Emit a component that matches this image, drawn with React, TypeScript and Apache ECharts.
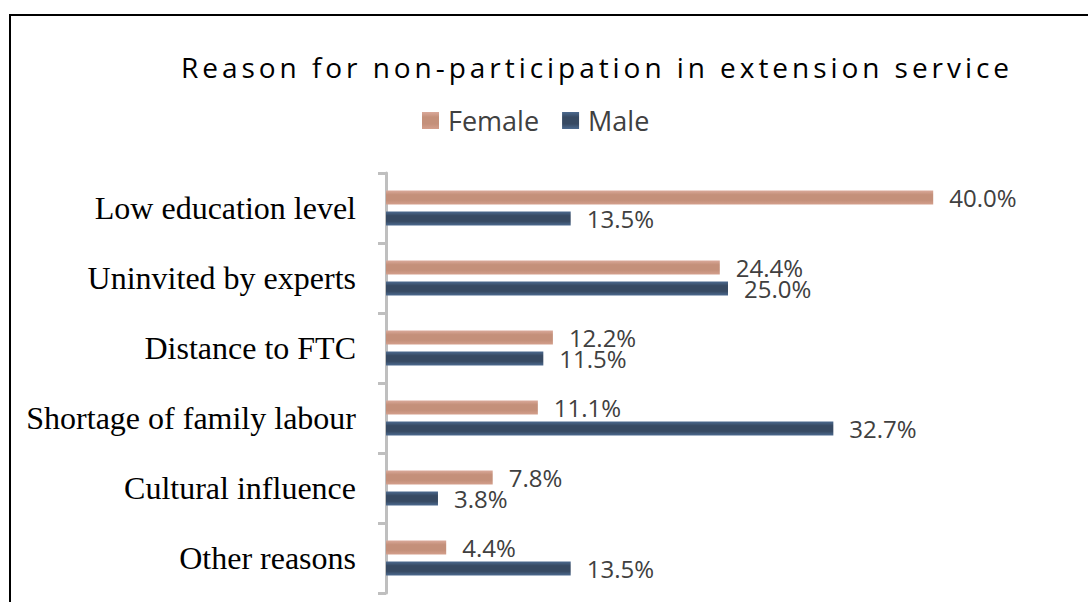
import React, { useEffect, useRef } from "react";
import * as echarts from "echarts";

const TITLE = "Reason for non-participation in extension service";
const categories = [
  "Low education level",
  "Uninvited by experts",
  "Distance to FTC",
  "Shortage of family labour",
  "Cultural influence",
  "Other reasons",
];
const female = [40.0, 24.4, 12.2, 11.1, 7.8, 4.4];
const male = [13.5, 25.0, 11.5, 32.7, 3.8, 13.5];
const seriesNames = ["Female", "Male"];

const femaleGrad = () =>
  new echarts.graphic.LinearGradient(0, 0, 0, 1, [
    { offset: 0, color: "#DAA99A" },
    { offset: 0.3, color: "#C4907A" },
    { offset: 0.7, color: "#C4907A" },
    { offset: 1, color: "#D49F8C" },
  ]);
const maleGrad = () =>
  new echarts.graphic.LinearGradient(0, 0, 0, 1, [
    { offset: 0, color: "#4C6A90" },
    { offset: 0.3, color: "#374A63" },
    { offset: 0.7, color: "#374A63" },
    { offset: 1, color: "#4C6A90" },
  ]);

export default function App() {
  const ref = useRef<HTMLDivElement>(null);
  useEffect(() => {
    document.body.style.margin = "0";
    if (!ref.current) return;
    const chart = echarts.init(ref.current, undefined, { renderer: "svg" });
    const labelStyle = {
      show: true,
      position: "right" as const,
      distance: 16,
      fontFamily: "Open Sans",
      fontSize: 24,
      color: "#404040",
      formatter: (p: any) => Number(p.value).toFixed(1) + "%",
    };
    chart.setOption({
      animation: false,
      backgroundColor: "#ffffff",
      title: {
        text: TITLE,
        left: 592,
        top: 48,
        textAlign: "center",
        textStyle: {
          fontFamily: "Open Sans",
          fontSize: 28,
          fontWeight: "normal",
          color: "#000000",
        },
      },
      legend: {
        left: 417,
        top: 102,
        itemWidth: 17,
        itemHeight: 17,
        itemGap: 23,
        icon: "rect",
        data: seriesNames,
        textStyle: {
          fontFamily: "Open Sans",
          fontSize: 27,
          color: "#404040",
          padding: [0, 0, 0, 4],
        },
      },
      graphic: [
        {
          type: "rect",
          shape: { x: 10, y: 15, width: 1100, height: 620 },
          style: { fill: "none", stroke: "#000000", lineWidth: 2 },
          silent: true,
        },
      ],
      grid: { left: 386, right: 18, top: 173, bottom: 9 },
      xAxis: {
        type: "value",
        min: 0,
        max: 50,
        show: false,
      },
      yAxis: {
        type: "category",
        data: categories,
        inverse: true,
        offset: 2,
        axisLine: { show: true, lineStyle: { color: "#BFBFBF", width: 3 } },
        axisTick: { show: true, length: 8, lineStyle: { color: "#BFBFBF", width: 3 } },
        axisLabel: {
          margin: 28,
          fontFamily: "Liberation Serif",
          fontSize: 32,
          color: "#000000",
        },
        splitLine: { show: false },
      },
      series: [
        {
          name: seriesNames[0],
          type: "bar",
          data: female,
          barWidth: 14,
          barGap: "50%",
          itemStyle: { color: femaleGrad() },
          label: labelStyle,
        },
        {
          name: seriesNames[1],
          type: "bar",
          data: male,
          barWidth: 14,
          barGap: "50%",
          itemStyle: { color: maleGrad() },
          label: labelStyle,
        },
      ],
    });
    // letter-spacing for the title, as in the reference
    const svg = ref.current.querySelector("svg");
    if (svg) {
      svg.querySelectorAll("text").forEach((t) => {
        if (t.textContent === TITLE) {
          const len = (t as SVGTextElement).getComputedTextLength();
          const ls = (828 - len) / (TITLE.length - 1);
          (t as SVGTextElement).style.letterSpacing = ls + "px";
        }
      });
    }
    return () => chart.dispose();
  }, []);
  return <div ref={ref} style={{ width: 1088, height: 602 }} />;
}
